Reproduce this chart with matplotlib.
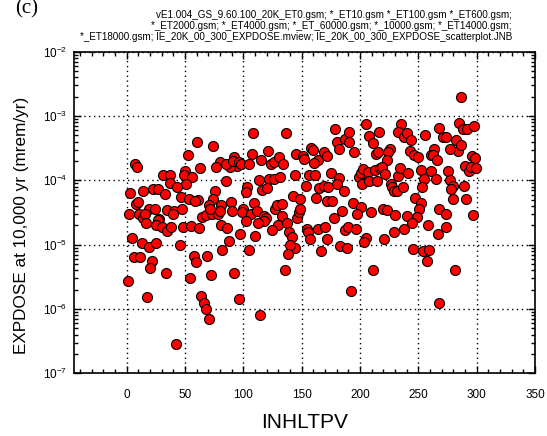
import numpy as np
import matplotlib
matplotlib.use("Agg")
import matplotlib.pyplot as plt
from matplotlib.ticker import MultipleLocator, LogLocator, NullFormatter

plt.rcParams['font.family'] = ['Liberation Sans', 'DejaVu Sans']
plt.rcParams['mathtext.fontset'] = 'custom'
plt.rcParams['mathtext.rm'] = 'Liberation Sans'

# INHLTPV values (x) and log10(EXPDOSE at 10,000 yr) values
inhltpv = [
    60.5, 74, 52.5, 7, 9, 80, 77, 63, 50, 49.5, 31, 37, 56.5, 37.5, 51, 43, 3, 14, 23, 27,
    33, 76, 46.5, 53.5, 61, 59, 74, 71, 8.5, 10, 81, 19, 24, 35, 41, 40, 47.5, 2, 10.5, 14.5,
    15.5, 16.5, 28, 27, 25.5, 30, 34.5, 38.5, 48, 55, 62.5, 65, 68, 73.5, 78, 71.5, 80, 81, 5, 13,
    19.5, 25, 45.5, 6, 11.5, 22, 20.5, 33.5, 57.5, 59.5, 69, 54.5, 72, 82, 1, 17.5, 64, 66, 68.5, 71,
    42,
    108, 136.5, 107.5, 121.5, 92, 94.5, 88.5, 85, 91, 96.5, 98.5, 105, 115, 124, 126, 130.5, 134.5,
    145.5, 151, 152.5, 158.5, 160, 164, 161, 169, 172, 144.5, 156, 161.5, 85.5, 113.5, 122.5, 126.5,
    131.5, 103.5, 102.5, 116, 120.5, 153.5, 142.5, 149, 162.5, 165, 169, 171.5, 89.5, 90, 100, 99,
    109, 106.5, 111.5, 117.5, 119.5, 118, 112.5, 102, 127.5, 129, 133, 133.5, 130, 124.5, 137.5,
    139.5, 141.5, 146.5, 148, 149, 144, 140.5, 138.5, 154.5, 155.5, 157, 164, 170, 171.5, 166.5,
    87.5, 97.5, 110.5, 105, 92.5, 136, 96.5, 114.5, 86.5,
    178.5, 205.5, 235.5, 268, 180, 187, 191, 191, 182, 194.5, 208, 211.5, 216.5, 213.5, 215.5,
    225.5, 224, 223, 233, 238, 240.5, 243.5, 242.5, 246, 249.5, 256, 263.5, 260.5, 263, 266, 175.5,
    182.5, 180.5, 173, 186, 199, 200.5, 202.5, 201.5, 207, 208, 212.5, 215, 217.5, 219, 221.5, 227,
    227.5, 229, 232, 232.5, 234.5, 236.5, 241, 252.5, 254.5, 253.5, 261, 265.5, 176.5, 194, 200.5,
    197.5, 184.5, 178, 209.5, 219.5, 223.5, 230, 240.5, 247, 252, 250.5, 248.5, 244.5, 237.5, 229,
    258.5, 267, 268, 187.5, 189.5, 196.5, 205, 203.5, 221, 183, 189, 245.5, 254, 259.5, 257.5, 211,
    192.5, 268,
    286.5, 285, 288, 292, 297.5, 282.5, 284, 287, 271, 274, 277, 296, 298.5, 290, 293.5, 295,
    299.5, 275.5, 277.5, 280, 278, 289.5, 279.5, 291, 273.5, 297, 274, 281.5,
]
log_expdose = [
    -3.41, -3.46, -3.60, -3.74, -3.80, -3.72, -3.80, -3.81, -3.85, -3.92, -3.91, -3.92, -3.95, -4.04,
    -4.06, -4.11, -4.19, -4.17, -4.14, -4.13, -4.21, -4.16, -4.26, -4.29, -4.30, -4.32, -4.29, -4.38,
    -4.37, -4.34, -4.38, -4.45, -4.44, -4.46, -4.47, -4.52, -4.45, -4.52, -4.52, -4.58, -4.53, -4.67,
    -4.60, -4.61, -4.69, -4.73, -4.78, -4.73, -4.72, -4.71, -4.74, -4.57, -4.54, -4.53, -4.52, -4.44,
    -4.47, -4.69, -4.90, -4.98, -5.04, -4.97, -5.01, -5.19, -5.19, -5.26, -5.37, -5.44, -5.17, -5.27,
    -5.18, -5.52, -5.47, -5.08, -5.57, -5.82, -5.79, -5.91, -6.00, -6.15, -6.54,
    -3.27, -3.26, -3.59, -3.55, -3.64, -3.78, -3.79, -3.74, -3.70, -3.71, -3.74, -3.75, -3.69, -3.75,
    -3.71, -3.64, -3.74, -3.59, -3.63, -3.67, -3.50, -3.53, -3.69, -3.73, -3.56, -3.62, -3.91, -3.91,
    -3.91, -4.01, -4.00, -3.98, -3.98, -3.95, -4.10, -4.18, -4.15, -4.12, -4.09, -4.25, -4.29, -4.27,
    -4.12, -4.09, -4.32, -4.33, -4.47, -4.45, -4.49, -4.35, -4.52, -4.48, -4.55, -4.59, -4.64, -4.67,
    -4.63, -4.45, -4.38, -4.37, -4.55, -4.69, -4.77, -4.67, -4.80, -4.88, -4.59, -4.49, -4.44, -5.05,
    -5.00, -5.15, -4.75, -4.80, -4.91, -4.75, -4.73, -4.91, -5.10, -4.94, -4.83, -4.87, -5.08, -5.44,
    -5.40, -5.84, -6.09, -4.74,
    -3.20, -3.13, -3.13, -3.19, -3.41, -3.36, -3.25, -3.40, -3.52, -3.56, -3.31, -3.42, -3.25, -3.59,
    -3.56, -3.52, -3.56, -3.68, -3.25, -3.33, -3.27, -3.38, -3.54, -3.60, -3.64, -3.30, -3.52, -3.60,
    -3.61, -3.68, -3.89, -3.97, -4.05, -4.11, -4.16, -3.95, -3.88, -3.82, -4.06, -3.87, -4.01, -3.84,
    -4.01, -3.81, -3.80, -3.90, -4.06, -4.11, -4.17, -4.16, -3.93, -3.81, -4.10, -3.89, -3.84, -3.98,
    -4.11, -3.85, -3.98, -4.32, -4.35, -4.42, -4.53, -4.48, -4.59, -4.50, -4.44, -4.46, -4.54, -4.56,
    -4.28, -4.36, -4.45, -4.57, -4.66, -4.75, -4.80, -4.69, -4.84, -4.45, -4.77, -4.73, -4.76, -4.89,
    -4.96, -4.91, -5.02, -5.05, -5.07, -5.10, -5.08, -5.25, -5.39, -5.72, -5.91,
    -2.71, -3.11, -3.20, -3.20, -3.15, -3.37, -3.55, -3.45, -3.32, -3.32, -3.51, -3.63, -3.65, -3.78,
    -3.85, -3.80, -3.81, -3.85, -3.99, -4.09, -4.13, -4.09, -4.29, -4.29, -4.52, -4.54, -4.73, -5.40,
]
x_ticks = [0, 50, 100, 150, 200, 250, 300, 350]

x = np.array(inhltpv)
y = 10.0 ** np.array(log_expdose)

fig = plt.figure(figsize=(5.47, 4.36), dpi=100)
ax = fig.add_axes([0.1353, 0.1436, 0.8427, 0.7381])

ax.set_yscale('log')
ax.set_xlim(-45, 350)
ax.set_ylim(1e-7, 1e-2)

ax.grid(True, which='major', color='black', linestyle=(0, (1, 2.5)), linewidth=1.0)
ax.set_axisbelow(True)

ax.scatter(x, y, s=52, facecolor='#ff0000', edgecolor='black', linewidth=0.8, zorder=3)

ax.set_xticks(x_ticks)
ax.xaxis.set_minor_locator(MultipleLocator(10))
ax.yaxis.set_major_locator(LogLocator(base=10, numticks=10))
ax.yaxis.set_minor_locator(LogLocator(base=10, subs=np.arange(2, 10), numticks=20))
ax.yaxis.set_minor_formatter(NullFormatter())
ax.tick_params(which='both', direction='in', top=True, right=True, labelsize=8.5, width=1)
ax.tick_params(which='major', length=5)
ax.tick_params(which='minor', length=3)
ax.tick_params(axis='x', which='major', pad=11)
ax.tick_params(axis='y', which='major', pad=5)
for sp in ax.spines.values():
    sp.set_linewidth(1.2)

ax.set_xlabel('INHLTPV', fontsize=15, labelpad=9)
ax.set_ylabel('EXPDOSE at 10,000 yr (mrem/yr)', fontsize=12.3)
ax.yaxis.set_label_coords(-0.097, 0.46)

fig.text(0.028, 0.968, '(c)', fontsize=15, family='Liberation Serif', ha='left', va='baseline')
header = ("vE1.004_GS_9.60.100_20K_ET0.gsm; *_ET10.gsm *_ET100.gsm *_ET600.gsm;\n"
          "*_ET2000.gsm; *_ET4000.gsm; *_ET_60000.gsm; *_10000.gsm; *_ET14000.gsm;\n"
          "*_ET18000.gsm; IE_20K_00_300_EXPDOSE.mview; IE_20K_00_300_EXPDOSE_scatterplot.JNB")
fig.text(0.936, 0.976, header, fontsize=7.1, ha='right', va='top', multialignment='right',
         linespacing=1.1)

fig.savefig('out.png', dpi=100)
